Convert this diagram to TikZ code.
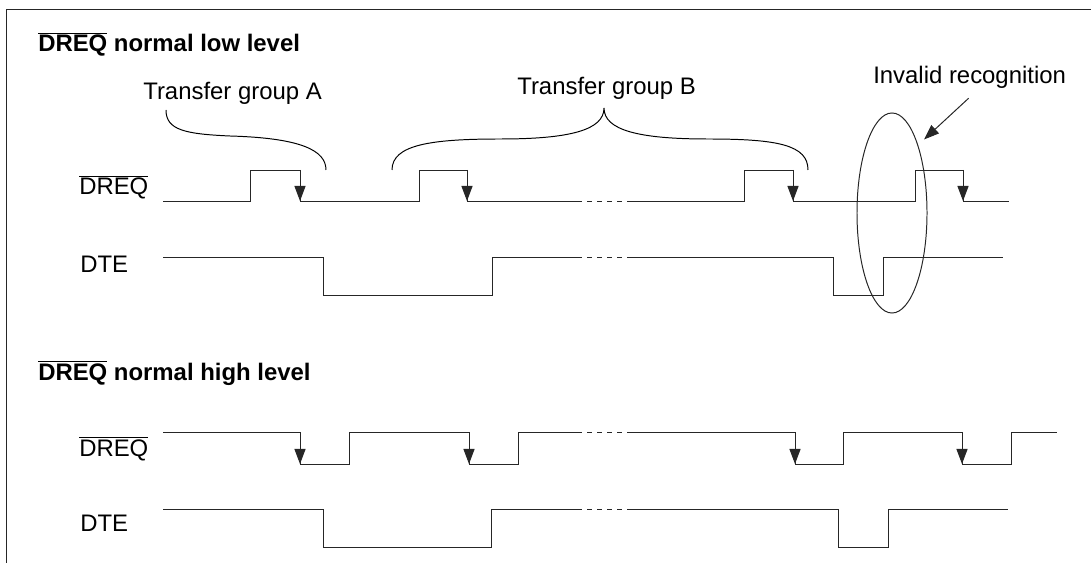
\documentclass[tikz,border=0pt]{standalone}
\usepackage{fontspec}
\setmainfont{Liberation Sans}
\usepackage{tikz}
\usetikzlibrary{arrows.meta}
\usetikzlibrary{shapes.geometric}

\begin{document}
\begin{tikzpicture}[
	x=0.025cm, y=-0.025cm,
	font=\fontsize{17}{20}\selectfont
]
\tikzset{
    wave/.style = {draw=black!85, line width=0.7pt},
    fall/.style = {wave, -{Triangle[length=0.38cm,width=0.28cm]}},
    gap/.style = {wave, dash pattern=on 0.13cm off 0.12cm},
    lbl/.style = {anchor=base west, inner sep=0pt},
    brace/.style = {draw=black, line width=0.7pt}
}
\useasboundingbox (0,0) rectangle (1091,563);
\draw[wave] (6,563) |- (1091,9);

% DREQ normal low level
\node[lbl,font=\fontsize{17}{20}\selectfont\bfseries] (lowtitle) at (38,52) {$\overline{\mbox{DREQ}}$ normal low level};
\node[lbl] (dreqlow) at (79,195) {$\overline{\mbox{DREQ}}$};
\node[lbl] (dtelow) at (80,273) {DTE};
\node[lbl] (groupa) at (143,100) {Transfer group A};
\node[lbl] (groupb) at (517,95) {Transfer group B};
\node[lbl] (invalid) at (873,84) {Invalid recognition};

\draw[brace] (166,110) .. controls (166,130) and (185,134) .. (230,136)
    .. controls (300,138) and (326,150) .. (326,170);
\draw[brace] (392,170) .. controls (392,145) and (430,139) .. (500,139)
    .. controls (570,139) and (604,130) .. (604,108)
    .. controls (604,130) and (638,139) .. (708,139)
    .. controls (778,139) and (808,145) .. (808,170);

\draw[wave] (163,201) -| (250,170) -| (300,201) -| (419,170) -| (467,201) -- (577,201);
\draw[gap] (577,201) -- (627,201);
\draw[wave] (627,201) -| (744,170) -| (793,201) -| (915,170) -| (963,201) -- (1009,201);
\foreach \x in {300,467,793,963}
    \draw[fall] (\x,170) -- (\x,201);

\draw[wave] (163,257) -| (323,295) -| (492,257) -- (577,257);
\draw[gap] (577,257) -- (627,257);
\draw[wave] (627,257) -| (833,295) -| (883,257) -- (1003,257);

\node[wave,draw,ellipse,minimum width=1.75cm,minimum height=5cm,inner sep=0pt] (badrec) at (892,213) {};
\draw[fall,shorten >=0.2cm] ([shift={(-1,9)}]invalid.south) -- (badrec.69);

% DREQ normal high level
\node[lbl,font=\fontsize{17}{20}\selectfont\bfseries] (hightitle) at (38,380) {$\overline{\mbox{DREQ}}$ normal high level};
\node[lbl] (dreqhigh) at (79,456) {$\overline{\mbox{DREQ}}$};
\node[lbl] (dtehigh) at (80,531) {DTE};

\draw[wave] (163,432) -| (300,464) -| (349,432) -| (469,464) -| (518,432) -- (577,432);
\draw[gap] (577,432) -- (627,432);
\draw[wave] (627,432) -| (795,464) -| (843,432) -| (962,464) -| (1011,432) -- (1057,432);
\foreach \x in {300,469,795,962}
    \draw[fall] (\x,432) -- (\x,464);

\draw[wave] (163,509) -| (323,547) -| (491,509) -- (577,509);
\draw[gap] (577,509) -- (627,509);
\draw[wave] (627,509) -| (838,547) -| (888,509) -- (1008,509);
\end{tikzpicture}
\end{document}
